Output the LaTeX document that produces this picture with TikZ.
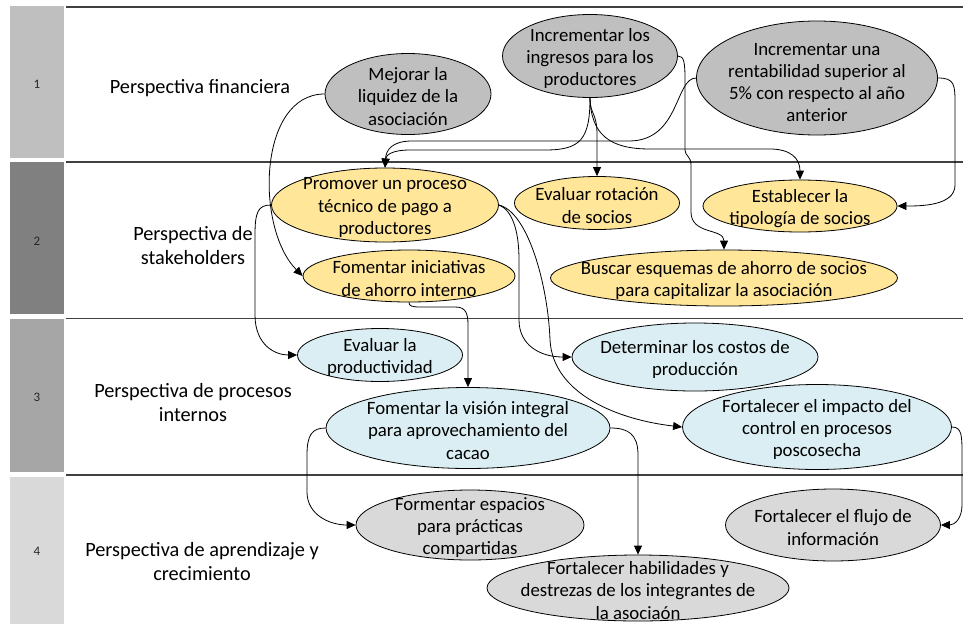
\documentclass[tikz,border=0pt]{standalone}
\usepackage{fontspec}
\setmainfont{Carlito}
\usetikzlibrary{shapes.geometric,arrows.meta}
\definecolor{gA}{HTML}{BFBFBF}
\definecolor{gB}{HTML}{808080}
\definecolor{gC}{HTML}{A6A6A6}
\definecolor{gD}{HTML}{D9D9D9}
\definecolor{yel}{HTML}{FFE699}
\definecolor{blu}{HTML}{DAEEF3}
\definecolor{sepc}{HTML}{404040}
\begin{document}
\begin{tikzpicture}[x=1pt,y=-1pt,
 obj/.style={ellipse, draw=black, line width=0.8pt, inner sep=0pt},
 og/.style={obj, fill=gA}, oy/.style={obj, fill=yel}, ob/.style={obj, fill=blu}, ol/.style={obj, fill=gD},
 txt/.style={align=center, font=\fontsize{18.8}{22.3}\selectfont, inner sep=0pt, yshift=-2.5pt},
 ptxt/.style={align=center, font=\fontsize{20.3}{23.5}\selectfont, inner sep=0pt, yshift=-1.5pt},
 num/.style={font=\fontsize{13}{15}\selectfont, text=black!85},
 con/.style={line width=0.8pt, -{Triangle[length=9pt,width=8pt]}},
 sepl/.style={draw=sepc, line width=1.3pt}]
\useasboundingbox (0,0) rectangle (963,624);
% left column
\fill[gA] (10,6) rectangle (64,158);
\fill[gB] (10,162) rectangle (64,314);
\fill[gC] (10,319) rectangle (64,472);
\fill[gD] (10,477) rectangle (64,624);
\node[num] (n1) at (37,84) {1};
\node[num] (n2) at (37,241) {2};
\node[num] (n3) at (37,397) {3};
\node[num] (n4) at (37,551) {4};
% separators
\draw[sepl] (66,7) -- (963,7);
\draw[sepl] (66,162) -- (963,162);
\draw[sepl] (66,318.5) -- (963,318.5);
\draw[sepl] (66,475) -- (963,475);
% perspectives
\node[ptxt] (p1) at (200,87) {Perspectiva financiera};
\node[ptxt] (p2) at (193,244) {Perspectiva de\\stakeholders};
\node[ptxt] (p3) at (193,401) {Perspectiva de procesos\\internos};
\node[ptxt] (p4) at (202,560) {Perspectiva de aprendizaje y\\crecimiento};
% objectives
\node[og, minimum width=166pt, minimum height=81pt, label={[txt]center:{Mejorar la\\liquidez de la\\asociación}}] (mej) at (408,94) {};
\node[og, minimum width=175pt, minimum height=83pt, label={[txt]center:{Incrementar los\\ingresos para los\\productores}}] (ing) at (590,56) {};
\node[og, minimum width=241pt, minimum height=114pt, label={[txt, yshift=-2pt]center:{Incrementar una\\rentabilidad superior al\\5\% con respecto al año\\anterior}}] (ren) at (817,78) {};
\node[oy, minimum width=227pt, minimum height=74pt, label={[txt]center:{Promover un proceso\\técnico de pago a\\productores}}] (pro) at (385,205) {};
\node[oy, minimum width=165pt, minimum height=53pt, label={[txt]center:{Evaluar rotación\\de socios}}] (rot) at (597,203) {};
\node[oy, minimum width=194pt, minimum height=52pt, label={[txt]center:{Establecer la\\tipología de socios}}] (est) at (800,206) {};
\node[oy, minimum width=212pt, minimum height=52pt, label={[txt]center:{Fomentar iniciativas\\de ahorro interno}}] (ini) at (409,276) {};
\node[oy, minimum width=347pt, minimum height=56pt, label={[txt]center:{Buscar esquemas de ahorro de socios\\para capitalizar la asociación}}] (bus) at (724,278) {};
\node[ob, minimum width=165pt, minimum height=53pt, label={[txt]center:{Evaluar la\\productividad}}] (pdv) at (380,355) {};
\node[ob, minimum width=246pt, minimum height=68pt, label={[txt]center:{Determinar los costos de\\producción}}] (cos) at (695,357) {};
\node[ob, minimum width=284pt, minimum height=81pt, label={[txt]center:{Fomentar la visión integral\\para aprovechamiento del\\cacao}}] (vis) at (468,428) {};
\node[ob, minimum width=269pt, minimum height=85pt, label={[txt]center:{Fortalecer el impacto del\\control en procesos\\poscosecha}}] (imp) at (817,427) {};
\node[ol, minimum width=228pt, minimum height=70pt, label={[txt]center:{Formentar espacios\\para prácticas\\compartidas}}] (esp) at (470,525) {};
\node[ol, minimum width=302pt, minimum height=66pt, label={[txt]center:{Fortalecer habilidades y\\destrezas de los integrantes de\\la asociaón}}] (hab) at (638,588) {};
\node[ol, minimum width=215pt, minimum height=72pt, label={[txt]center:{Fortalecer el flujo de\\información}}] (flu) at (833,525) {};
% connectors
\draw[con] (mej.west) .. controls (258,94) and (255,228) .. (ini.west);
\draw[con] (ing.south) .. controls (590,140) and (580,150) .. (545,150) -- (410,150) .. controls (392,150) and (386,155) .. (pro.north);
\draw[con] (ren.west) .. controls (675,78) and (680,140) .. (630,141) -- (412,141) .. controls (392,141) and (386,150) .. (pro.north);
\draw[con] (ing.south) .. controls (590,115) and (597,112) .. (597,135) -- (rot.north);
\draw[con] (ing.south) .. controls (591,135) and (610,149) .. (650,149) -- (770,149) .. controls (790,149) and (800,158) .. (est.north);
\draw[con] (ing.east) .. controls (684,56) and (685,62) .. (685,80) -- (685,150) .. controls (685,156) and (691,156) .. (691,165) -- (691,212) .. controls (691,235) and (724,228) .. (bus.north);
\draw[con] (ren.east) .. controls (955,78) and (955,85) .. (955,105) -- (955,185) .. controls (955,206) and (920,206) .. (est.east);
\draw[con] (pro.west) .. controls (258,205) and (255,212) .. (255,235) -- (255,315) .. controls (255,345) and (275,355) .. (pdv.west);
\draw[con] (ini.south) .. controls (409,306) and (412,307) .. (420,307) -- (455,307) .. controls (465,307) and (468,312) .. (468,325) -- (vis.north);
\draw[con] (pro.east) .. controls (512,210) and (519,230) .. (519,260) -- (519,320) .. controls (519,345) and (540,357) .. (cos.west);
\draw[con] (pro.east) .. controls (528,212) and (548,285) .. (550,340) .. controls (553,395) and (620,420) .. (imp.west);
\draw[con] (vis.west) .. controls (312,428) and (307,435) .. (307,455) -- (307,492) .. controls (307,515) and (330,525) .. (esp.west);
\draw[con] (vis.east) .. controls (628,428) and (638,434) .. (638,455) -- (hab.north);
\draw[con] (imp.east) .. controls (962,427) and (962,436) .. (962,455) -- (962,505) .. controls (962,518) and (955,525) .. (flu.east);
\end{tikzpicture}
\end{document}
